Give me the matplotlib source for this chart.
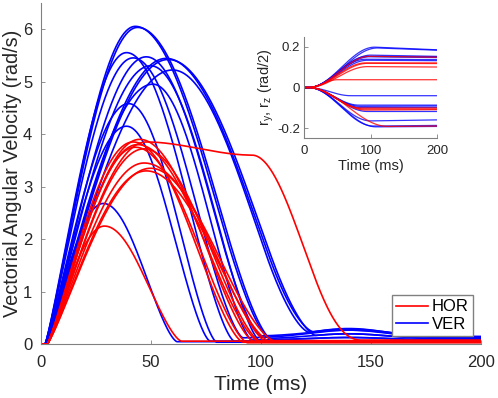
import numpy as np
import matplotlib
matplotlib.use("Agg")
import matplotlib.pyplot as plt
from matplotlib.lines import Line2D

plt.rcParams["font.family"] = ["Liberation Sans", "DejaVu Sans"]
plt.rcParams["mathtext.default"] = "regular"

# --- velocity profiles ---
# peak (rad/s), peak time (ms), end of main pulse (ms), tail level (rad/s)
blue_peak = [6.05, 6.03, 5.55, 5.45, 5.47, 5.44, 5.42, 5.30, 5.22, 4.95, 4.58, 4.15, 2.68]
blue_tpk = [43, 44, 39, 42, 48, 57, 58, 50, 60, 51, 40, 39, 28.5]
blue_tend = [104, 105, 88, 92, 100, 124, 125, 100, 122, 96, 80, 77, 62]
blue_tail = [0.10, 0.08, 0.06, 0.12, 0.15, 0.12, 0.10, 0.05, 0.14, 0.08, 0.04, 0.06, 0.05]
blue_hump = [0.10, 0.05, 0.0, 0.15, 0.12, 0.18, 0.10, 0.0, 0.15, 0.05, 0.0, 0.0, 0.0]

red_peak = [3.90, 3.85, 3.80, 3.75, 3.72, 3.45, 3.35, 3.30, 2.25, 3.85]
red_tpk = [45, 42, 44, 43, 47, 47, 50, 48, 29, 48]
red_hold = [45, 42, 44, 43, 47, 47, 50, 48, 29, 96]      # end of plateau
red_hold_val = [3.90, 3.85, 3.80, 3.75, 3.72, 3.45, 3.35, 3.30, 2.25, 3.60]
red_tend = [97, 92, 99, 94, 100, 106, 103, 104, 64, 146]
red_tail = [0.05, 0.04, 0.06, 0.03, 0.05, 0.07, 0.04, 0.06, 0.06, 0.08]

# --- rotation vector components (inset): value at plateau, plateau time, value at 200 ms ---
blue_r = [0.197, 0.193, 0.158, 0.152, 0.150, 0.138, 0.133, -0.040, -0.086, -0.092, -0.098,
          -0.117, -0.163, -0.188, -0.192]
blue_rt = [106, 110, 100, 95, 98, 92, 95, 70, 82, 85, 86, 95, 100, 104, 108]
blue_rend = [0.184, 0.182, 0.152, 0.150, 0.146, 0.136, 0.131, -0.040, -0.086, -0.090, -0.097,
             -0.117, -0.158, -0.185, -0.190]

red_r = [0.152, 0.120, 0.118, 0.102, 0.038, -0.100, -0.105, -0.110, -0.190]
red_rt = [98, 92, 95, 95, 50, 85, 90, 92, 126]
red_rend = [0.148, 0.120, 0.117, 0.100, 0.038, -0.100, -0.105, -0.108, -0.188]

t = np.linspace(0, 200, 801)


def pulse(A, tp, th, Ah, te, tail, hump, t0):
    v = np.zeros_like(t)
    up = (t >= t0) & (t <= tp)
    s = (t[up] - t0) / (tp - t0)
    v[up] = A * np.sin(np.pi / 2 * s) ** 1.15
    hold = (t > tp) & (t <= th)
    if th > tp:
        s = (t[hold] - tp) / (th - tp)
        v[hold] = A + (Ah - A) * s * s * (3 - 2 * s)
    dn = (t > th) & (t <= te)
    s = (t[dn] - th) / (te - th)
    v[dn] = Ah * np.cos(np.pi / 2 * s) ** (1.5 if th == tp else 2.2)
    ramp = np.clip((t - (te - 20)) / 20, 0, 1)
    ramp = ramp * ramp * (3 - 2 * ramp)
    v += tail * ramp + hump * ramp * np.exp(-((t - 140) / 25) ** 2)
    return v


def rot(R, te, Rend, t0=6):
    s = np.clip((t - t0) / (te - t0), 0, 1)
    r = R * (1 - np.cos(np.pi * s)) / 2
    late = t > te
    r[late] = R + (Rend - R) * (t[late] - te) / (200 - te)
    return r


fig = plt.figure(figsize=(4.98, 3.98), dpi=100)
ax = fig.add_axes([0.0817, 0.1349, 0.8835, 0.8583])

for A, tp, te, L, h in zip(blue_peak, blue_tpk, blue_tend, blue_tail, blue_hump):
    ax.plot(t, pulse(A, tp, tp, A, te, L, h, 2.0), color="#0000ff", lw=1.2)
for A, tp, th, Ah, te, L in zip(red_peak, red_tpk, red_hold, red_hold_val, red_tend, red_tail):
    ax.plot(t, pulse(A, tp, th, Ah, te, L, 0.0, 3.0), color="#ff0000", lw=1.2)

ax.set_xlim(0, 200)
ax.set_ylim(0, 6.5)
ax.set_xticks([0, 50, 100, 150, 200])
ax.set_yticks(range(7))
ax.set_xlabel("Time (ms)", fontsize=15, color="#262626", labelpad=3)
ax.set_ylabel("Vectorial Angular Velocity (rad/s)", fontsize=14.3, color="#262626", labelpad=1)

ax.legend(handles=[Line2D([], [], color="#ff0000", lw=1.2, label="HOR"),
                   Line2D([], [], color="#0000ff", lw=1.2, label="VER")],
          loc="lower right", bbox_to_anchor=(0.982, 0.024), fontsize=12,
          fancybox=False, edgecolor="#808080", framealpha=1, handlelength=1.9,
          handletextpad=0.25, borderpad=0.25, labelspacing=0.15, borderaxespad=0)

ins = fig.add_axes([0.611, 0.654, 0.267, 0.2538])
for R, te, Re in zip(blue_r, blue_rt, blue_rend):
    ins.plot(t, rot(R, te, Re), color="#0000ff", lw=0.9, alpha=0.8)
for R, te, Re in zip(red_r, red_rt, red_rend):
    ins.plot(t, rot(R, te, Re), color="#ff0000", lw=0.9, alpha=0.8)
ins.set_xlim(0, 200)
ins.set_ylim(-0.245, 0.248)
ins.set_xticks([0, 100, 200])
ins.set_yticks([-0.2, 0, 0.2])
ins.set_yticklabels(["-0.2", "0", "0.2"])
ins.set_xlabel("Time (ms)", fontsize=10.5, color="#262626", labelpad=2)
ins.set_ylabel("r$_y$, r$_z$ (rad/2)", fontsize=10.5, color="#262626", labelpad=1)

for a, fs, pd in ((ax, 12, 8), (ins, 9.5, 5)):
    for side in ("top", "right"):
        a.spines[side].set_visible(False)
    for side in ("left", "bottom"):
        a.spines[side].set_color("#808080")
        a.spines[side].set_linewidth(0.8)
    a.tick_params(direction="in", length=3, width=0.6, color="#808080",
                  labelsize=fs, labelcolor="#262626", pad=pd)
ax.tick_params(axis="y", pad=6)
ins.tick_params(axis="y", pad=3)

fig.savefig("out.png", dpi=100)
